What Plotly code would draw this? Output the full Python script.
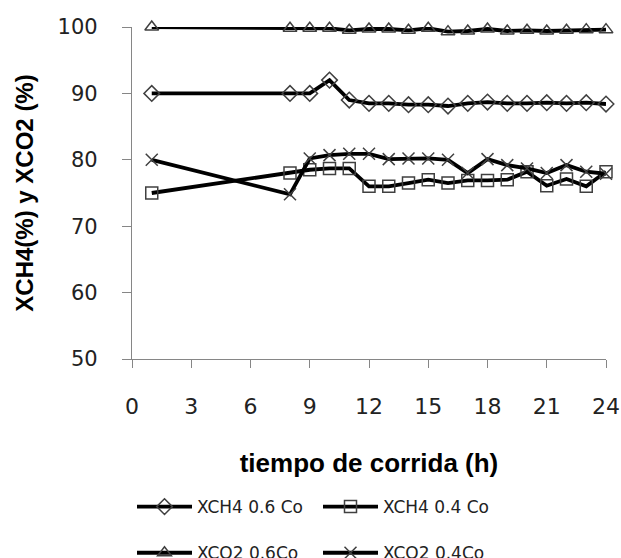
import plotly.graph_objects as go

hours = [1, 8, 9, 10, 11, 12, 13, 14, 15, 16, 17, 18, 19, 20, 21, 22, 23, 24]

xch4_06 = [90.0, 90.0, 90.0, 92.0, 89.0, 88.5, 88.5, 88.3, 88.3, 88.1, 88.5, 88.7, 88.5, 88.5, 88.6, 88.5, 88.6, 88.4]
xch4_04 = [75.0, 78.0, 78.5, 78.7, 78.7, 76.0, 76.0, 76.5, 77.0, 76.5, 76.9, 76.9, 77.0, 78.2, 76.1, 77.1, 76.0, 78.2]
xco2_06 = [100.0, 99.8, 99.8, 99.8, 99.5, 99.7, 99.7, 99.5, 99.8, 99.3, 99.4, 99.7, 99.4, 99.5, 99.4, 99.5, 99.6, 99.6]
xco2_04 = [80.0, 74.8, 80.2, 80.7, 80.9, 80.9, 80.1, 80.2, 80.2, 80.0, 78.0, 80.1, 79.2, 78.7, 78.0, 79.2, 78.2, 77.9]

series = [
    ("XCH4 0.6 Co", xch4_06, "diamond-open", "legend"),
    ("XCH4 0.4 Co", xch4_04, "square-open", "legend"),
    ("XCO2 0.6Co", xco2_06, "triangle-up-open", "legend2"),
    ("XCO2 0.4Co", xco2_04, "x-thin-open", "legend2"),
]

x_ticks = [0, 3, 6, 9, 12, 15, 18, 21, 24]
y_ticks = [50, 60, 70, 80, 90, 100]

fig = go.Figure()
for name, vals, sym, lg in series:
    fig.add_trace(go.Scatter(
        x=hours, y=vals, name=name, mode="lines+markers", legend=lg,
        line=dict(color="black", width=3.8),
        marker=dict(symbol=sym, size=12, color="#404040", line=dict(width=1.5, color="#404040")),
        cliponaxis=False,
    ))

legend_common = dict(
    orientation="h", xanchor="left", yanchor="middle",
    entrywidth=116, entrywidthmode="pixels", itemwidth=55,
    font=dict(family="DejaVu Sans", size=17, color="#222222"),
    bgcolor="rgba(0,0,0,0)",
)

fig.update_layout(
    width=621, height=558,
    margin=dict(l=132, r=15, t=27, b=199, autoexpand=False),
    paper_bgcolor="white", plot_bgcolor="white",
    showlegend=True,
    legend=dict(x=0.0, y=-0.446, **legend_common),
    legend2=dict(x=0.0, y=-0.585, **legend_common),
    xaxis=dict(
        range=[0, 24], tickvals=x_ticks, ticktext=[str(v) for v in x_ticks],
        showline=True, linecolor="#868686", linewidth=1.2,
        ticks="outside", ticklen=8, tickcolor="#868686",
        showgrid=False, zeroline=False,
        tickfont=dict(family="DejaVu Sans", size=22, color="#222222"),
        ticklabelstandoff=19,
        title=dict(text="<b>tiempo de corrida (h)</b>", font=dict(family="Liberation Sans", size=26, color="black"), standoff=36),
    ),
    yaxis=dict(
        range=[50, 100], tickvals=y_ticks, ticktext=[str(v) for v in y_ticks],
        showline=True, linecolor="#868686", linewidth=1.2,
        ticks="outside", ticklen=9, tickcolor="#868686",
        showgrid=False, zeroline=False,
        tickfont=dict(family="DejaVu Sans", size=21, color="#222222"),
        ticklabelstandoff=20,
        title=dict(text="<b>XCH4(%) y XCO2 (%)</b>", font=dict(family="Liberation Sans", size=24, color="black"), standoff=17),
    ),
)

fig.write_html("out.html", config={"displayModeBar": False},
               post_script="document.body.style.margin='0';")
